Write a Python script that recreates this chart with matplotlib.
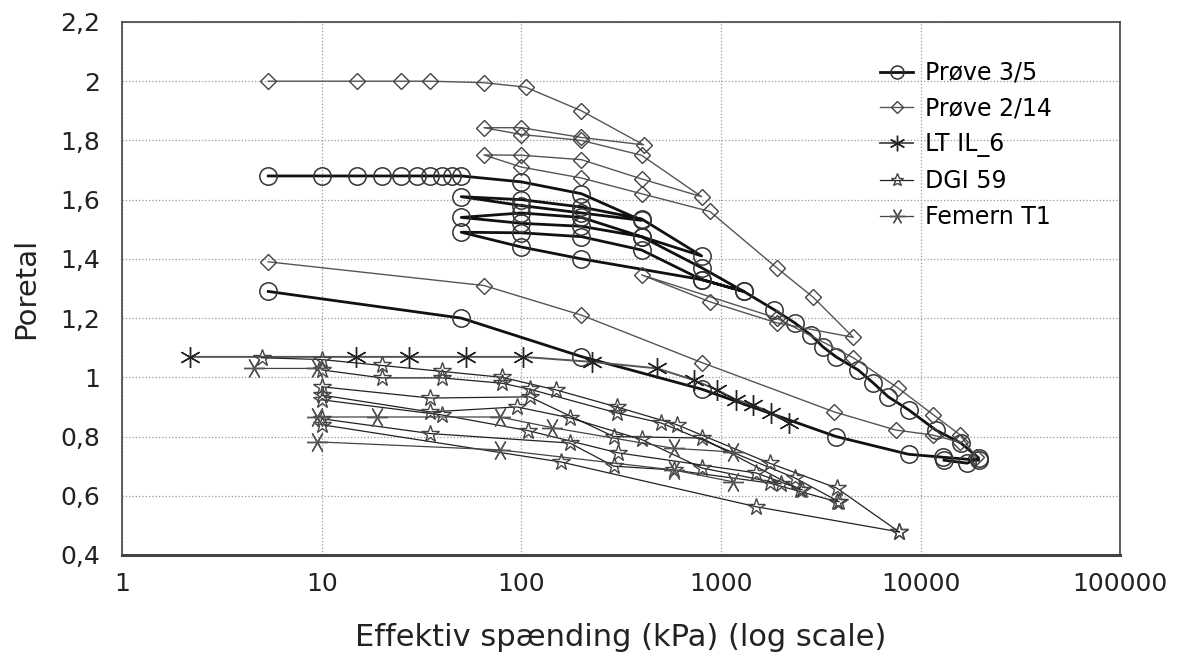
import numpy as np
import matplotlib.pyplot as plt
from matplotlib.ticker import FixedLocator, FuncFormatter

nan = np.nan

# Prøve 3/5 (circles) - loops + lower curve, nan separates curves
p35_x = [5.4, 10, 15, 20, 25, 30, 35, 40, 45, 50, 100, 200, 400,
         200, 100, 50, 100, 200, 400, 800,
         400, 200, 100, 50, 100, 200, 400, 800, 1300,
         800, 400, 200, 100, 50, 100, 200, 800, 1300,
         1850, 2340, 2820, 3240, 3770, 4860, 5790, 6890, 8710, 11900, 15900, 19500, 17100, 13100,
         nan,
         5.4, 50, 200, 800, 3770, 8710, 13000, 19500]
p35_y = [1.68, 1.68, 1.68, 1.68, 1.68, 1.68, 1.68, 1.68, 1.68, 1.68, 1.66, 1.62, 1.53,
         1.555, 1.58, 1.61, 1.60, 1.575, 1.535, 1.41,
         1.475, 1.51, 1.52, 1.54, 1.555, 1.54, 1.475, 1.37, 1.29,
         1.33, 1.43, 1.475, 1.488, 1.49, 1.44, 1.40, 1.33, 1.29,
         1.228, 1.184, 1.143, 1.103, 1.069, 1.025, 0.981, 0.934, 0.89, 0.822, 0.778, 0.728, 0.71, 0.72,
         nan,
         1.29, 1.20, 1.07, 0.96, 0.80, 0.74, 0.73, 0.72]

# Prøve 2/14 (diamonds)
p214_x = [5.4, 15, 25, 35, 65, 105, 200, 410,
          200, 100, 65, 100, 200, 400, 800,
          400, 200, 100, 65, 100, 200, 400, 880, 1900, 2900, 4600,
          1900, 880, 400, 1900, 4600, 7700, 11600, 15800, 19000,
          nan,
          5.4, 65, 200, 800, 3700, 7500, 11500, 15800]
p214_y = [2.0, 2.0, 2.0, 2.0, 1.995, 1.98, 1.90, 1.785,
          1.81, 1.843, 1.843, 1.82, 1.80, 1.75, 1.61,
          1.67, 1.735, 1.75, 1.751, 1.71, 1.673, 1.62, 1.56, 1.37, 1.27, 1.135,
          1.184, 1.255, 1.346, 1.20, 1.066, 0.964, 0.873, 0.805, 0.73,
          nan,
          1.39, 1.31, 1.21, 1.05, 0.883, 0.822, 0.805, 0.78]

# LT IL_6 (asterisks)
lt_x = [2.2, 14.8, 27.5, 53, 102, 227, 480, 735, 960, 1190, 1450, 1780, 2200]
lt_y = [1.069, 1.069, 1.069, 1.069, 1.069, 1.052, 1.03, 0.99, 0.957, 0.924, 0.907, 0.88, 0.846]

# DGI 59 (stars)
dgi_x = [5, 10, 20, 40, 80, 150, 300, 600, 1750, 3800, 7800, nan,
         10, 20, 40, 80, 110, 300, 500, 2350, 3900, nan,
         10, 35, 110, 290, 800, 2500, nan,
         10, 35, 95, 175, 400, 800, 2000, nan,
         10, 40, 108, 305, 1500, 2550, nan,
         10, 35, 175, 290, 580, 1750, 3800, nan,
         10, 158, 1500, 7800]
dgi_y = [1.066, 1.06, 1.04, 1.02, 1.0, 0.957, 0.90, 0.84, 0.71, 0.626, 0.478, nan,
         1.025, 0.998, 0.998, 0.98, 0.96, 0.88, 0.846, 0.66, 0.58, nan,
         0.968, 0.93, 0.934, 0.80, 0.795, 0.62, nan,
         0.94, 0.883, 0.90, 0.863, 0.79, 0.694, 0.64, nan,
         0.924, 0.873, 0.82, 0.745, 0.677, 0.62, nan,
         0.86, 0.81, 0.778, 0.70, 0.687, 0.643, 0.58, nan,
         0.84, 0.714, 0.563, 0.478]

# Femern T1 (x markers)
fem_x = [4.6, 9.5, nan, 9.5, 19, 78, 143, 580, 1150, nan, 9.5, 78, 580, 1150]
fem_y = [1.03, 1.03, nan, 0.866, 0.866, 0.866, 0.83, 0.76, 0.748, nan, 0.782, 0.755, 0.687, 0.647]

y_ticks = [0.4, 0.6, 0.8, 1.0, 1.2, 1.4, 1.6, 1.8, 2.0, 2.2]
x_ticks = [1, 10, 100, 1000, 10000, 100000]

plt.rcParams['font.family'] = 'DejaVu Sans'
fig = plt.figure(figsize=(11.78, 6.66), dpi=100)
ax = fig.add_axes([0.1036, 0.1667, 0.8474, 0.8003])

ax.plot(p35_x, p35_y, color='#111111', lw=2.0, marker='o', ms=12.5, mfc='none',
        mec='#333333', mew=1.1, label='Prøve 3/5')
ax.plot(p214_x, p214_y, color='#555555', lw=1.0, marker='D', ms=8, mfc='none',
        mec='#444444', mew=1.0, label='Prøve 2/14')
ax.plot(lt_x, lt_y, color='#555555', lw=1.4, marker=(6, 2, 0), ms=15,
        mec='#222222', mew=1.0, label='LT IL_6')
ax.plot(dgi_x, dgi_y, color='#222222', lw=0.9, marker='*', ms=13, mfc='none',
        mec='#444444', mew=1.0, label='DGI 59')
ax.plot(fem_x, fem_y, color='#444444', lw=0.9, marker=(6, 2, 30), ms=15,
        mec='#555555', mew=1.0, label='Femern T1')

ax.set_xscale('log')
ax.set_xlim(1, 100000)
ax.set_ylim(0.4, 2.2)
ax.xaxis.set_major_locator(FixedLocator(x_ticks))
ax.xaxis.set_minor_locator(FixedLocator([]))
ax.xaxis.set_major_formatter(FuncFormatter(lambda v, p: '%d' % round(v)))
ax.yaxis.set_major_locator(FixedLocator(y_ticks))
ax.yaxis.set_major_formatter(FuncFormatter(lambda v, p: ('%g' % round(v, 1)).replace('.', ',')))
ax.tick_params(axis='both', length=0, labelsize=18, colors='#222222')
ax.tick_params(axis='y', pad=16)
ax.tick_params(axis='x', pad=12)

ax.grid(True, which='major', color='#999999', linestyle=':', linewidth=0.9)
for s in ax.spines.values():
    s.set_color('#444444')
    s.set_linewidth(1.2)
ax.spines['bottom'].set_linewidth(2.2)

ax.set_xlabel('Effektiv spænding (kPa) (log scale)', fontsize=22, color='#222222', labelpad=20)
ax.set_ylabel('Poretal', fontsize=21, color='#222222', labelpad=14)

ax.legend(loc='upper left', bbox_to_anchor=(0.738, 0.967), frameon=False, fontsize=17,
          handlelength=1.4, handletextpad=0.5, labelspacing=0.5, markerscale=0.75)

plt.savefig('out.png', dpi=100)
